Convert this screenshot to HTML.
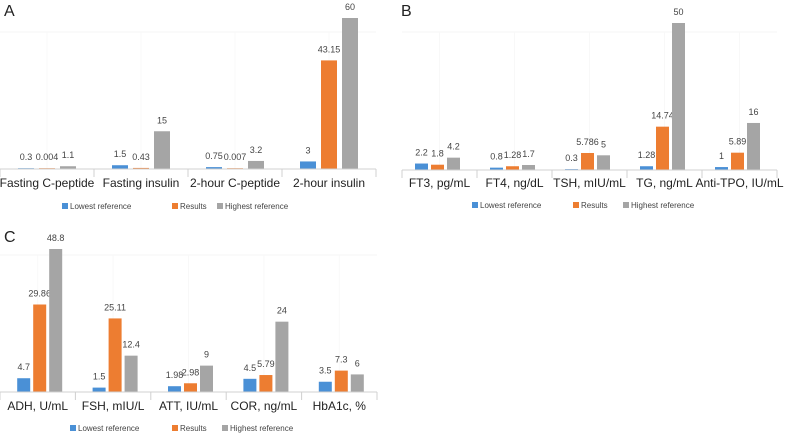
<!DOCTYPE html>
<html><head><meta charset="utf-8"><style>
body{margin:0;background:#fff;width:787px;height:438px;overflow:hidden;font-family:"Liberation Sans",sans-serif}
svg text{font-family:"Liberation Sans",sans-serif}
</style></head><body>
<svg id="chart" width="787" height="438"></svg>
<script>
const seriesNames=["Lowest reference","Results","Highest reference"];
const colors=["#4a90d6","#ed7d31","#a5a5a5"];
const catsA=["Fasting C-peptide","Fasting insulin","2-hour C-peptide","2-hour insulin"];
const lowA=[0.3,1.5,0.75,3];
const resA=[0.004,0.43,0.007,43.15];
const highA=[1.1,15,3.2,60];
const lowAL=["0.3","1.5","0.75","3"];
const resAL=["0.004","0.43","0.007","43.15"];
const highAL=["1.1","15","3.2","60"];
const catsB=["FT3, pg/mL","FT4, ng/dL","TSH, mIU/mL","TG, ng/mL","Anti-TPO, IU/mL"];
const lowB=[2.2,0.8,0.3,1.28,1];
const resB=[1.8,1.28,5.786,14.74,5.89];
const highB=[4.2,1.7,5,50,16];
const lowBL=["2.2","0.8","0.3","1.28","1"];
const resBL=["1.8","1.28","5.786","14.74","5.89"];
const highBL=["4.2","1.7","5","50","16"];
const catsC=["ADH, U/mL","FSH, mIU/L","ATT, IU/mL","COR, ng/mL","HbA1c, %"];
const lowC=[4.7,1.5,1.98,4.5,3.5];
const resC=[29.86,25.11,2.98,5.79,7.3];
const highC=[48.8,12.4,9,24,6];
const lowCL=["4.7","1.5","1.98","4.5","3.5"];
const resCL=["29.86","25.11","2.98","5.79","7.3"];
const highCL=["48.8","12.4","9","24","6"];

const svg=document.getElementById('chart');
const NS="http://www.w3.org/2000/svg";
function mk(tag,attrs,parent){const e=document.createElementNS(NS,tag);for(const k in attrs)e.setAttribute(k,attrs[k]);(parent||svg).appendChild(e);return e;}

function panel(cfg){
  const g=mk('g',{});
  
  
  const t=mk('text',{x:cfg.letterX,y:cfg.letterY,'font-size':16,fill:'#222'},g);t.textContent=cfg.letter;
  
  
  const n=cfg.cats.length, cw=(cfg.x1-cfg.x0)/n;
  mk('line',{x1:cfg.x0,x2:cfg.x1,y1:cfg.top,y2:cfg.top,stroke:'#f6f6f6'},g);
  for(let i=0;i<n;i++){const x=cfg.x0+(i+0.5)*cw;mk('line',{x1:x,x2:x,y1:cfg.top,y2:cfg.base,stroke:'#f8f8f8'},g);}
  for(let i=0;i<=n;i++){const x=cfg.x0+i*cw;mk('line',{x1:x,x2:x,y1:cfg.base,y2:cfg.base+8,stroke:'#d0d0d0'},g);}
  const series=[cfg.low,cfg.res,cfg.high], labels=[cfg.lowL,cfg.resL,cfg.highL];
  cfg.cats.forEach((c,i)=>{
    const cx=cfg.x0+(i+0.5)*cw+cfg.off;
    series.forEach((s,j)=>{
      const bx=cx+(j-1)*cfg.step-cfg.bw/2;
      const h=Math.max(s[i]*cfg.scale,0.8);
      const r=mk('rect',{x:bx,y:cfg.base-h,width:cfg.bw,height:h,fill:colors[j]},g);
      
      
      const tx=mk('text',{x:bx+cfg.bw/2,y:cfg.base-h-8,'font-size':9,fill:'#444','text-anchor':'middle'},g);
      tx.textContent=labels[j][i];
      
      
    });
    const ct=mk('text',{x:cfg.x0+(i+0.5)*cw,y:cfg.labY,'font-size':12,fill:'#222','text-anchor':'middle'},g);
    ct.textContent=c;
    
    
  });
  mk('line',{x1:cfg.x0,x2:cfg.x1,y1:cfg.base,y2:cfg.base,stroke:'#d0d0d0'},g);
  cfg.legX.forEach((lx,j)=>{
    const r=mk('rect',{x:lx,y:cfg.legY-6,width:6,height:6,fill:colors[j]},g);
    
    
    const lt=mk('text',{x:lx+8,y:cfg.legY,'font-size':8,fill:'#444'},g);
    lt.textContent=seriesNames[j];
    
    
  });
}
panel({id:'a',letter:'A',letterX:4,letterY:16,cats:catsA,low:lowA,res:resA,high:highA,lowL:lowAL,resL:resAL,highL:highAL,
  x0:0,x1:376,base:169,top:32,scale:151/60,bw:16,step:21,off:0,labY:187,legY:209,legX:[62,172,217]});
panel({id:'b',letter:'B',letterX:401,letterY:16,cats:catsB,low:lowB,res:resB,high:highB,lowL:lowBL,resL:resBL,highL:highBL,
  x0:402,x1:777,base:170,top:32,scale:147/50,bw:13,step:16,off:-2,labY:187,legY:208,legX:[472,573,623]});
panel({id:'c',letter:'C',letterX:4,letterY:242,cats:catsC,low:lowC,res:resC,high:highC,lowL:lowCL,resL:resCL,highL:highCL,
  x0:0,x1:377,base:392,top:255,scale:143/48.8,bw:13,step:16,off:2,labY:410,legY:431,legX:[70,172,222]});
</script>
</body></html>
